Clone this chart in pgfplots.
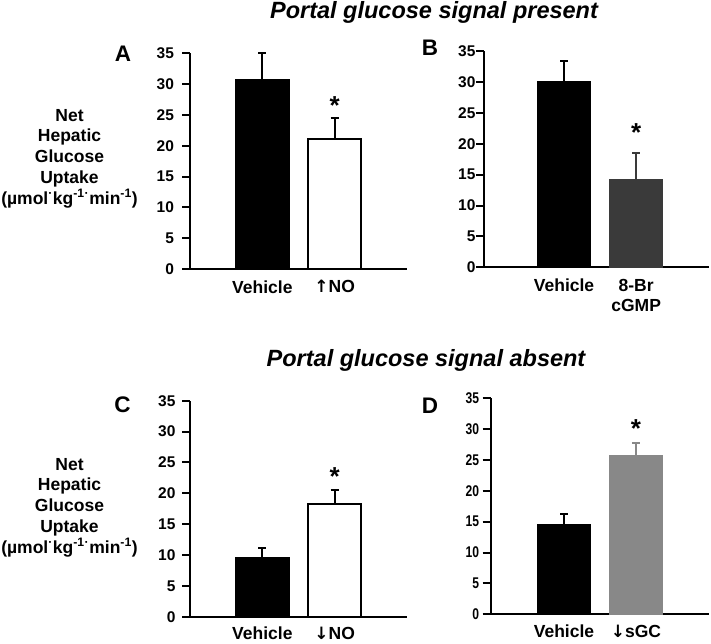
\documentclass[border=0pt]{standalone}
\usepackage{fontspec}
\setmainfont{Liberation Sans}
\newfontfamily\dv{DejaVu Sans}
\usepackage{pgfplots}
\pgfplotsset{compat=1.18}
\definecolor{darkbar}{HTML}{3A3A3A}
\definecolor{graybar}{HTML}{888888}
\newcommand{\fs}[2]{\fontsize{#1}{#2}\selectfont\bfseries}
\newcommand{\up}{{\dv\bfseries\fontsize{17}{17}\selectfont ↑}}
\newcommand{\dn}{{\dv\bfseries\fontsize{17}{17}\selectfont ↓}}
\pgfplotsset{
  panel/.style={
    scale only axis,
    anchor=south west,
    axis lines=left,
    axis line style={-, line width=2.2pt},
    ymin=0, ymax=35, ytick={0,5,...,35},
    tick align=outside,
    major tick length=8pt,
    ytick style={line width=2pt, black},
    xtick={1,2},
    xtick style={draw=none},
    /pgf/number format/assume math mode=true,
    yticklabel style={font=\fs{15.5}{15.5}},
    xticklabel style={font=\fs{17.5}{20}, align=center},
    ybar, bar shift=0pt, bar width=53pt,
    clip=false,
  },
  bb/.style 2 args={draw=#2, fill=#1, line width=1.5pt,
    error bars/y dir=plus, error bars/y explicit,
    error bars/error mark=|,
    error bars/error bar style={line width=2pt, draw=#2, solid},
    error bars/error mark options={mark size=4pt, line width=2pt, draw=#2}},
}
\begin{document}
\begin{tikzpicture}[x=1pt,y=1pt]
\useasboundingbox (0,0) rectangle (711,-644);
% titles
\node[anchor=base, font=\fs{23.5}{23.5}\itshape] at (434,-19) {Portal glucose signal present};
\node[anchor=base, font=\fs{23.5}{23.5}\itshape] at (426,-366) {Portal glucose signal absent};
% panel letters
\node[anchor=base, font=\fs{22.5}{22.5}] at (123,-62) {A};
\node[anchor=base, font=\fs{22.5}{22.5}] at (430,-55.5) {B};
\node[anchor=base, font=\fs{22.5}{22.5}] at (122.5,-412) {C};
\node[anchor=base, font=\fs{22.5}{22.5}] at (430,-413) {D};
% y labels
\node[align=center, font=\fs{17.5}{20.7}] at (69.5,-158.5) {Net\\Hepatic\\Glucose\\Uptake\\(µmol\textsuperscript{·}kg\textsuperscript{-1}\textsuperscript{·}min\textsuperscript{-1})};
\node[align=center, font=\fs{17.5}{20.7}] at (69.5,-507.5) {Net\\Hepatic\\Glucose\\Uptake\\(µmol\textsuperscript{·}kg\textsuperscript{-1}\textsuperscript{·}min\textsuperscript{-1})};

% Panel A
\begin{axis}[panel, at={(190pt,-269pt)}, width=217pt, height=215.7pt,
  xmin=0, xmax=3, xticklabels={Vehicle, \up NO}, yticklabel style={xshift=-4.5pt}]
\addplot[bb={black}{black}] coordinates {(1,30.7) +- (0,4.3)};
\addplot[bb={white}{black}] coordinates {(2,21.1) +- (0,3.4)};
\node[anchor=base, font=\fs{26}{26}] at (axis cs:2,25.1) {*};
\end{axis}

% Panel B
\begin{axis}[panel, at={(484pt,-267.3pt)}, width=225pt, height=216.3pt,
  xmin=-0.11, xmax=3.01, xticklabels={Vehicle, 8-Br\\cGMP}, yticklabel style={xshift=3pt}]
\addplot[bb={black}{black}] coordinates {(1,30.1) +- (0,3.3)};
\addplot[bb={darkbar}{darkbar}] coordinates {(2,14.1) +- (0,4.35)};
\node[anchor=base, font=\fs{26}{26}] at (axis cs:2,20.3) {*};
\end{axis}

% Panel C
\begin{axis}[panel, at={(190pt,-616.7pt)}, width=217pt, height=216pt,
  xmin=0, xmax=3, xticklabels={Vehicle, \dn NO}, yticklabel style={xshift=-3pt},
  xticklabel style={yshift=1.5pt}]
\addplot[bb={black}{black}] coordinates {(1,9.5) +- (0,1.6)};
\addplot[bb={white}{black}] coordinates {(2,18.3) +- (0,2.2)};
\node[anchor=base, font=\fs{26}{26}] at (axis cs:2,21.2) {*};
\end{axis}

% Panel D
\begin{axis}[panel, at={(490.7pt,-614.3pt)}, width=218pt, height=216pt,
  xmin=-0.018, xmax=3.01, xticklabels={Vehicle, \dn sGC},
  yticklabel style={xscale=0.78, xshift=-1pt}, xticklabel style={yshift=1pt}]
\addplot[bb={black}{black}] coordinates {(1,14.5) +- (0,1.7)};
\addplot[bb={graybar}{graybar}] coordinates {(2,25.7) +- (0,2.1)};
\node[anchor=base, font=\fs{26}{26}] at (axis cs:2,28.7) {*};
\end{axis}
\end{tikzpicture}
\end{document}
